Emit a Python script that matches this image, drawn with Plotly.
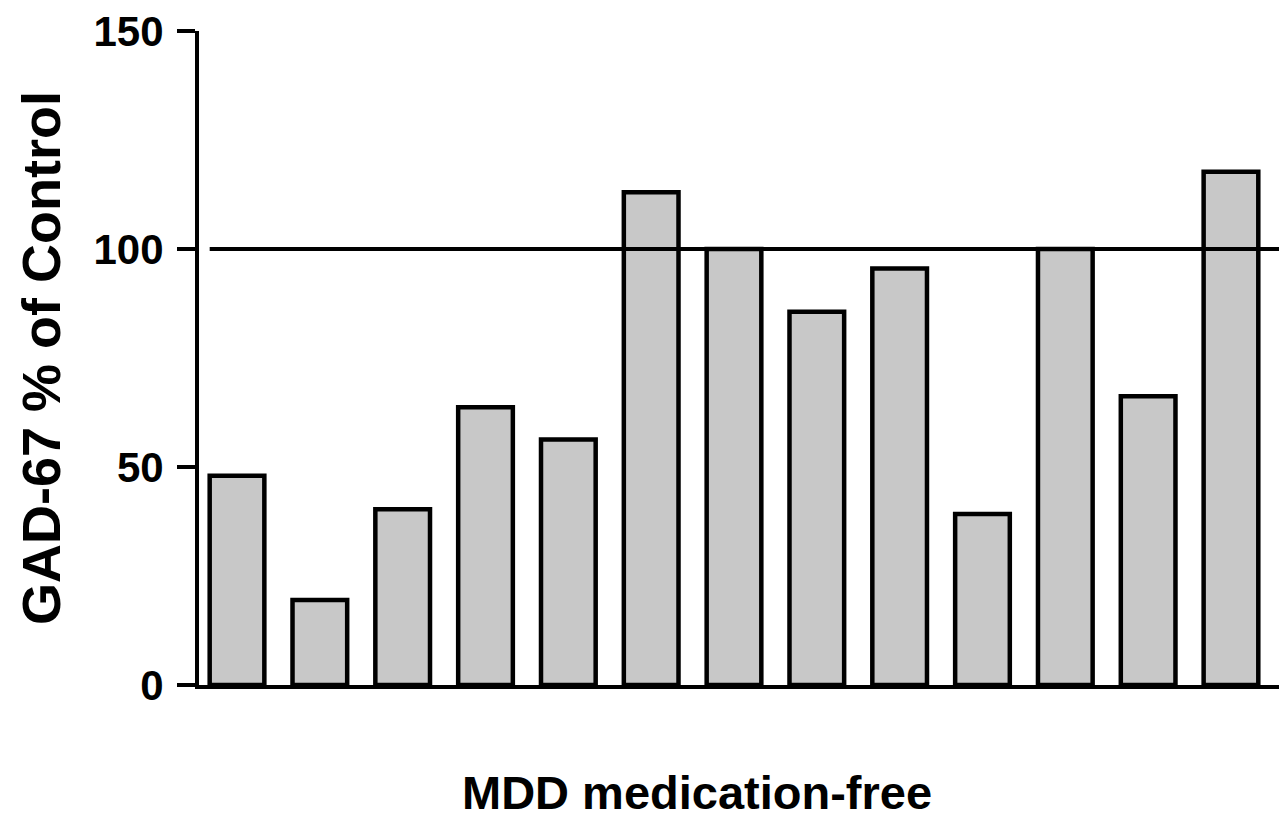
import plotly.graph_objects as go

# Data
subjects = list(range(13))
gad67_pct = [48, 19.5, 40.3, 63.7, 56.3, 113.0, 100, 85.6, 95.5, 39.2, 100, 66.2, 117.7]
y_ticks = [0, 50, 100, 150]
control_level = 100
x_title = "MDD medication-free"
y_title = "GAD-67 % of Control"

FONT = "Liberation Sans, Arial, sans-serif"

fig = go.Figure()
fig.add_trace(go.Bar(
    x=subjects,
    y=gad67_pct,
    width=0.66,
    marker=dict(color="#c8c8c8", line=dict(color="black", width=4.5)),
    showlegend=False,
))

fig.add_shape(
    type="line", xref="x", yref="y",
    x0=-0.33, x1=12.592, y0=control_level, y1=control_level,
    line=dict(color="black", width=4), layer="above",
)

fig.add_annotation(
    text=x_title, xref="paper", yref="paper",
    x=0.461, y=0, xanchor="center", yanchor="middle", yshift=-107,
    showarrow=False,
    font=dict(family=FONT, size=47, color="black", weight=700),
)

fig.add_annotation(
    text=y_title, xref="paper", yref="paper",
    x=0, y=0.5, xanchor="center", yanchor="middle", xshift=-158,
    textangle=-90, showarrow=False,
    font=dict(family=FONT, size=54, color="black", weight=700),
)

fig.update_layout(
    width=1279, height=817,
    margin=dict(l=191, r=7, t=23, b=140),
    paper_bgcolor="white", plot_bgcolor="white",
)

fig.update_xaxes(
    range=[-0.459, 12.592], automargin=False,
    showticklabels=False, ticks="",
    showline=True, linecolor="black", linewidth=4,
    showgrid=False, zeroline=False,
)
fig.update_yaxes(
    range=[0, 150], automargin=False,
    tickvals=y_ticks,
    ticks="outside", ticklen=18, tickwidth=4, tickcolor="black",
    ticklabelstandoff=5, ticklabeloverflow="allow",
    tickfont=dict(family=FONT, size=42, color="black", weight=700),
    showline=True, linecolor="black", linewidth=4,
    showgrid=False, zeroline=False,
)

fig.write_html("out.html")
